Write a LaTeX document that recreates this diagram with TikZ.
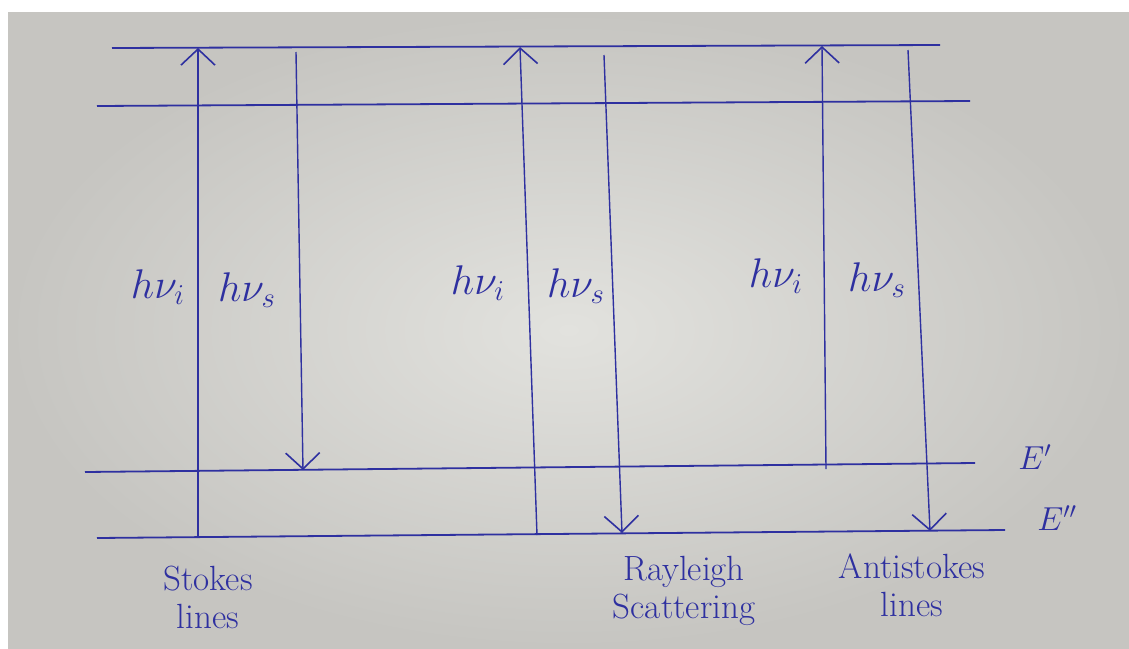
\documentclass[tikz,border=0pt]{standalone}
\usepackage{graphicx}
\usetikzlibrary{arrows.meta}
\definecolor{ink}{RGB}{46,48,160}
\definecolor{paperlight}{RGB}{226,226,222}
\definecolor{paperdark}{RGB}{198,197,193}
% enlarged math labels (math fonts stop at \Huge)
\newcommand{\mlab}[1]{\scalebox{2.0}{$#1$}}
\newcommand{\elab}[1]{\scalebox{1.6}{$#1$}}
\tikzset{
  level/.style={ink, line width=1.8pt},
  trans/.style={ink, line width=1.4pt, -{Straight Barb[length=16pt,width=34pt,line width=1.6pt]}},
  lbl/.style={ink, font=\huge},
  captext/.style={ink, font=\fontsize{35}{38}\selectfont, align=center}
}
\begin{document}
\begin{tikzpicture}[x=1pt,y=-1pt]
  % sheet and paper
  \fill[white] (0,0) rectangle (1129,648);
  \shade[inner color=paperlight, outer color=paperdark] (8,12) rectangle (1129,648);
  \useasboundingbox (0,0) rectangle (1129,648);

  % energy levels
  \coordinate (t1) at (112,48);  \coordinate (t2) at (940,45);
  \coordinate (v1) at (97,106);  \coordinate (v2) at (970,101);
  \coordinate (e1a) at (85,472); \coordinate (e1b) at (975,463);
  \coordinate (e2a) at (97,538); \coordinate (e2b) at (1005,530);
  \draw[level] (t1) -- (t2);
  \draw[level] (v1) -- (v2);
  \draw[level] (e1a) -- (e1b);
  \draw[level] (e2a) -- (e2b);

  % Stokes
  \coordinate (s1b) at (198,538); \coordinate (s1t) at (198,48);
  \coordinate (s2t) at (296,52);  \coordinate (s2b) at (303,470);
  \draw[trans] (s1b) -- (s1t);
  \draw[trans] (s2t) -- (s2b);

  % Rayleigh
  \coordinate (r1b) at (537,535); \coordinate (r1t) at (520,47);
  \coordinate (r2t) at (604,55);  \coordinate (r2b) at (622,533);
  \draw[trans] (r1b) -- (r1t);
  \draw[trans] (r2t) -- (r2b);

  % anti-Stokes
  \coordinate (a1b) at (826,469); \coordinate (a1t) at (822,46);
  \coordinate (a2t) at (908,50);  \coordinate (a2b) at (930,531);
  \draw[trans] (a1b) -- (a1t);
  \draw[trans] (a2t) -- (a2b);

  % photon labels
  \node[lbl] (hi1) at (158,287) {\mlab{h\nu_i}};
  \node[lbl] (hs1) at (247,290) {\mlab{h\nu_s}};
  \node[lbl] (hi2) at (478,283) {\mlab{h\nu_i}};
  \node[lbl] (hs2) at (576,286) {\mlab{h\nu_s}};
  \node[lbl] (hi3) at (776,276) {\mlab{h\nu_i}};
  \node[lbl] (hs3) at (877,280) {\mlab{h\nu_s}};

  % level labels
  \node[lbl] (ep) at (1035,457) {\elab{E'}};
  \node[lbl] (epp) at (1057,518) {\elab{E''}};

  % captions
  \node[captext] (cs) at (208,597) {Stokes\\lines};
  \node[captext] (cr) at (684,591) {Rayleigh\\Scattering};
  \node[captext] (ca) at (912,585) {Antistokes\\lines};
\end{tikzpicture}
\end{document}
